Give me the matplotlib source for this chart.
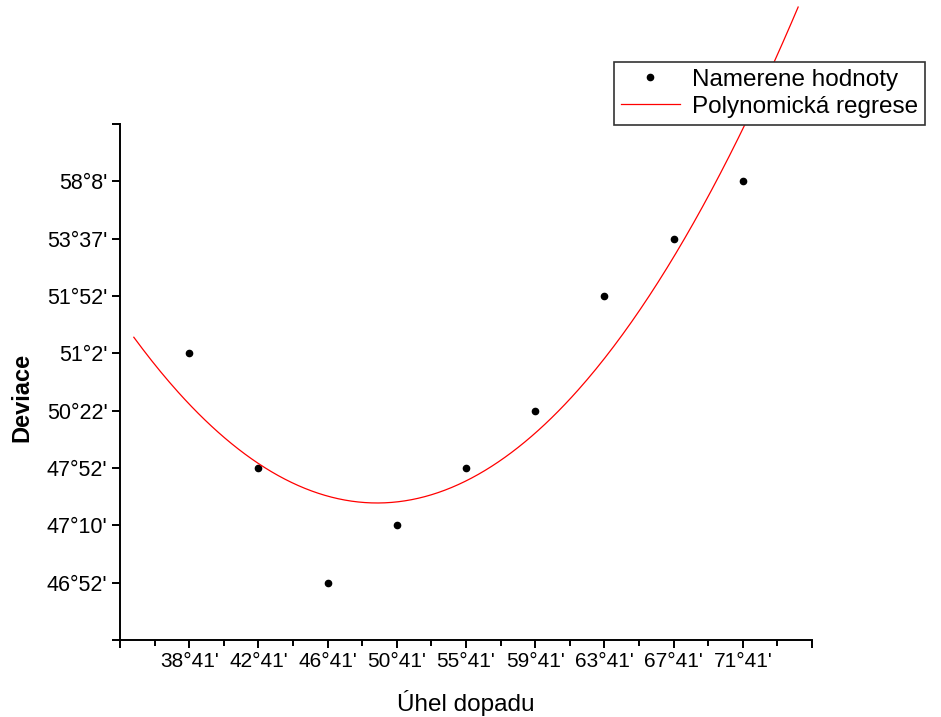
import numpy as np
import matplotlib
matplotlib.use('Agg')
import matplotlib.pyplot as plt
from matplotlib.ticker import MultipleLocator

plt.rcParams['font.family'] = ['Liberation Sans', 'DejaVu Sans']

# tick labels (categorical positions 1..9 on x, 1..8 on y)
x_labels = ["38°41'", "42°41'", "46°41'", "50°41'", "55°41'",
            "59°41'", "63°41'", "67°41'", "71°41'"]
y_labels = ["46°52'", "47°10'", "47°52'", "50°22'", "51°2'",
            "51°52'", "53°37'", "58°8'"]

# measured points: x position, y level
x_pos = [1, 2, 3, 4, 5, 6, 7, 8, 9]
y_level = [5, 3, 1, 2, 3, 4, 6, 7, 8]

# polynomial (2nd order) regression of the points
coef = np.polyfit(x_pos, y_level, 2)
xs = np.linspace(0.2, 9.8, 300)
ys = np.polyval(coef, xs)

fig = plt.figure(figsize=(9.41, 7.17), dpi=100)
ax = fig.add_axes([0.1275, 0.1074, 0.8629 - 0.1275, 0.827 - 0.1074])

ax.plot(x_pos, y_level, 'o', color='black', markersize=4.5, label='Namerene hodnoty')
ax.plot(xs, ys, '-', color='red', linewidth=0.9, clip_on=False, label='Polynomická regrese')

ax.set_xlim(0, 10)
ax.set_ylim(0, 9)
ax.spines['top'].set_visible(False)
ax.spines['right'].set_visible(False)
for s in ['left', 'bottom']:
    ax.spines[s].set_linewidth(1.4)

ax.set_xticks(range(0, 11))
ax.set_xticklabels([''] + x_labels + [''])
ax.xaxis.set_minor_locator(MultipleLocator(0.5))
ax.set_yticks(range(0, 10))
ax.set_yticklabels([''] + y_labels + [''])

ax.tick_params(axis='both', which='major', direction='out', length=6, width=1.4,
               labelsize=15, pad=3)
ax.tick_params(axis='y', which='major', labelsize=15.5)
ax.tick_params(axis='x', which='minor', direction='out', length=4, width=1.4)
ax.tick_params(axis='y', which='minor', left=False)

ax.set_xlabel('Úhel dopadu', fontsize=17.5, labelpad=13)
ax.set_ylabel('Deviace', fontsize=17, fontweight='bold')
ax.yaxis.set_label_coords(-0.125, 0.47)

leg = fig.legend(loc='upper left', bbox_to_anchor=(0.6525, 0.914), fontsize=17.5,
                 frameon=True, fancybox=False, edgecolor='#333333', framealpha=1,
                 handlelength=2.4, handletextpad=0.5, borderpad=0.3,
                 labelspacing=0.2, borderaxespad=0)
leg.get_frame().set_linewidth(1.2)

fig.savefig('out.png', dpi=100)
